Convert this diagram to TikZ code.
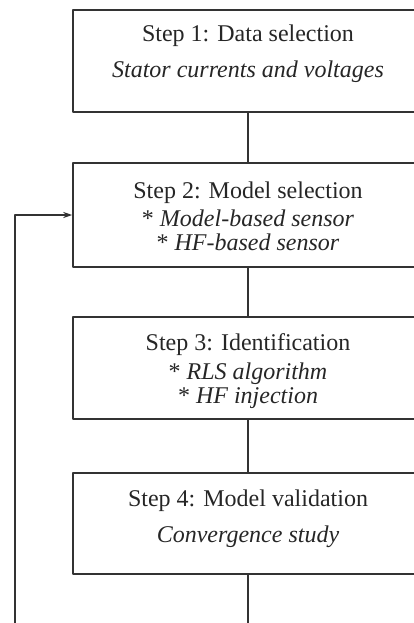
\documentclass[tikz,border=0pt]{standalone}
\usepackage{fontspec}
\setmainfont{Liberation Serif}
\usetikzlibrary{positioning,arrows.meta}
\begin{document}
\begin{tikzpicture}[x=1pt,y=1pt,>={Stealth[length=9pt,width=6pt]}, line join=round, font=\fontsize{24}{24}\selectfont,
	box/.style={draw=black!80, line width=1.5pt, minimum width=350pt, minimum height=102pt, inner sep=0pt},
	txt/.style={align=center, inner sep=0pt, text=black!85},
	link/.style={draw=black!80, line width=1.5pt}]
	\useasboundingbox (0,0) rectangle (414,-623);
	\clip (0,0) rectangle (414,-623);
	% Cac buoc
	\node[box] (s1) at (248,-61) {};
	\node[box, minimum height=104pt] (s2) at (248,-215) {};
	\node[box] (s3) at (248,-368) {};
	\node[box, minimum height=101pt] (s4) at (248,-523.5) {};
	\node[txt, below=15pt of s1.north] (t1) {Step 1: Data selection\\[12pt] \textit{Stator currents and voltages}};
	\node[txt, below=19pt of s2.north] (t2) {Step 2: Model selection\\[4pt] * \textit{Model-based sensor}\\ * \textit{HF-based sensor}};
	\node[txt, below=17pt of s3.north] (t3) {Step 3: Identification\\[5pt] * \textit{RLS algorithm}\\ * \textit{HF injection}};
	\node[txt, below=17pt of s4.north] (t4) {Step 4: Model validation\\[12pt] \textit{Convergence study}};
	% Ket noi
	\coordinate[below=60pt of s4.south] (endv);
	\coordinate (endl) at (15,-640);
	\draw[link] (s1) -- (s2);
	\draw[link] (s2) -- (s3);
	\draw[link] (s3) -- (s4);
	\draw[link] (s4) -- (endv);
	\draw[link,->] (endl) |- (s2.west);
\end{tikzpicture}
\end{document}
